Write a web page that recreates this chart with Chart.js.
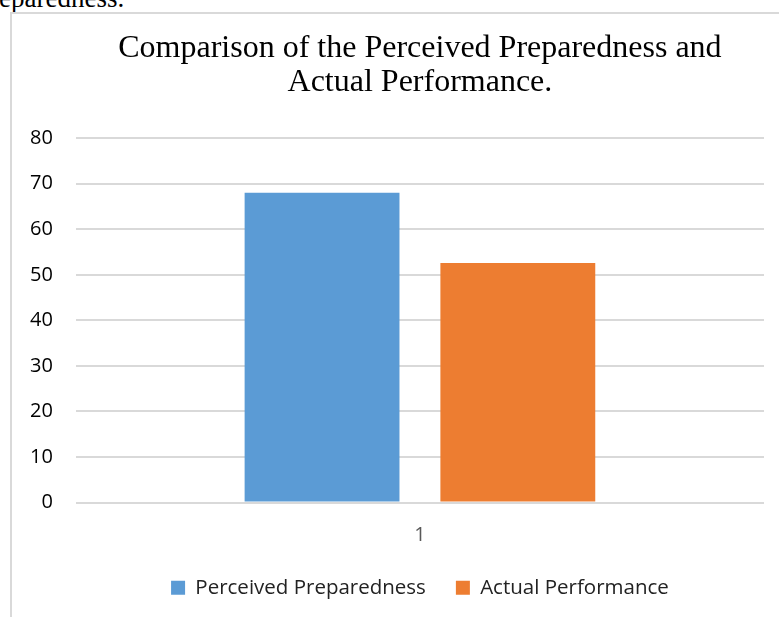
<!DOCTYPE html>
<html>
<head>
<meta charset="utf-8">
<script src="https://cdn.jsdelivr.net/npm/chart.js@4"></script>
<style>
  html, body { margin: 0; padding: 0; background: #fff; overflow: hidden; }
  body { width: 779px; height: 617px; position: relative; }
  #topText {
    position: absolute; left: -1px; top: -15px;
    font: 27px "Liberation Serif", "Times New Roman", serif; color: #000;
    line-height: 27px; white-space: nowrap;
  }
  #frame {
    position: absolute; left: 10px; top: 12px; width: 769px; height: 605px;
    border-left: 2px solid #d9d9d9; border-top: 2px solid #d9d9d9;
    box-sizing: border-box;
  }
  #wrap { position: absolute; left: 0; top: 0; width: 767px; height: 603px; }
</style>
</head>
<body>
<div id="topText">eparedness.</div>
<div id="frame"><div id="wrap"><canvas id="chart"></canvas></div></div>
<script>
// данные с картинки
const categories = ['1'];
const seriesNames = ['Perceived Preparedness', 'Actual Performance'];
const perceivedValues = [68];
const actualValues = [52.6];
const titleLines = ['Comparison of the Perceived Preparedness and', 'Actual Performance.'];

const sans = '"Open Sans", sans-serif';

const ctx = document.getElementById('chart').getContext('2d');
new Chart(ctx, {
  type: 'bar',
  data: {
    labels: categories,
    datasets: [
      { label: seriesNames[0], data: perceivedValues, backgroundColor: '#5b9bd5' },
      { label: seriesNames[1], data: actualValues,    backgroundColor: '#ed7d31' }
    ]
  },
  options: {
    responsive: true,
    maintainAspectRatio: false,
    animation: false,
    categoryPercentage: 0.569,
    barPercentage: 0.791,
    layout: { padding: { left: -5, right: 15, top: 8, bottom: 9 } },
    plugins: {
      title: {
        display: true,
        fullSize: false,
        text: titleLines,
        color: '#000',
        font: { family: '"Liberation Serif", "Times New Roman", serif', size: 32, weight: 'normal', lineHeight: 1.05 },
        padding: { top: 10, bottom: 39 }
      },
      legend: {
        position: 'bottom',
        fullSize: false,
        labels: {
          boxWidth: 14, boxHeight: 14, padding: 30,
          color: '#222',
          font: { family: sans, size: 20.5 }
        }
      },
      tooltip: { enabled: false }
    },
    scales: {
      x: {
        // невидимая засечка вместо отступа (padding считается дважды)
        grid: { display: false, drawTicks: true, tickLength: 21, tickColor: 'rgba(0,0,0,0)' },
        border: { display: false },
        ticks: { color: '#595959', font: { family: sans, size: 20 }, padding: 0 }
      },
      y: {
        min: 0, max: 80,
        grid: { color: '#d9d9d9', lineWidth: 2, drawTicks: false },
        border: { display: false },
        ticks: { stepSize: 10, color: '#000', font: { family: sans, size: 20 }, padding: 23 }
      }
    }
  }
});
</script>
</body>
</html>
